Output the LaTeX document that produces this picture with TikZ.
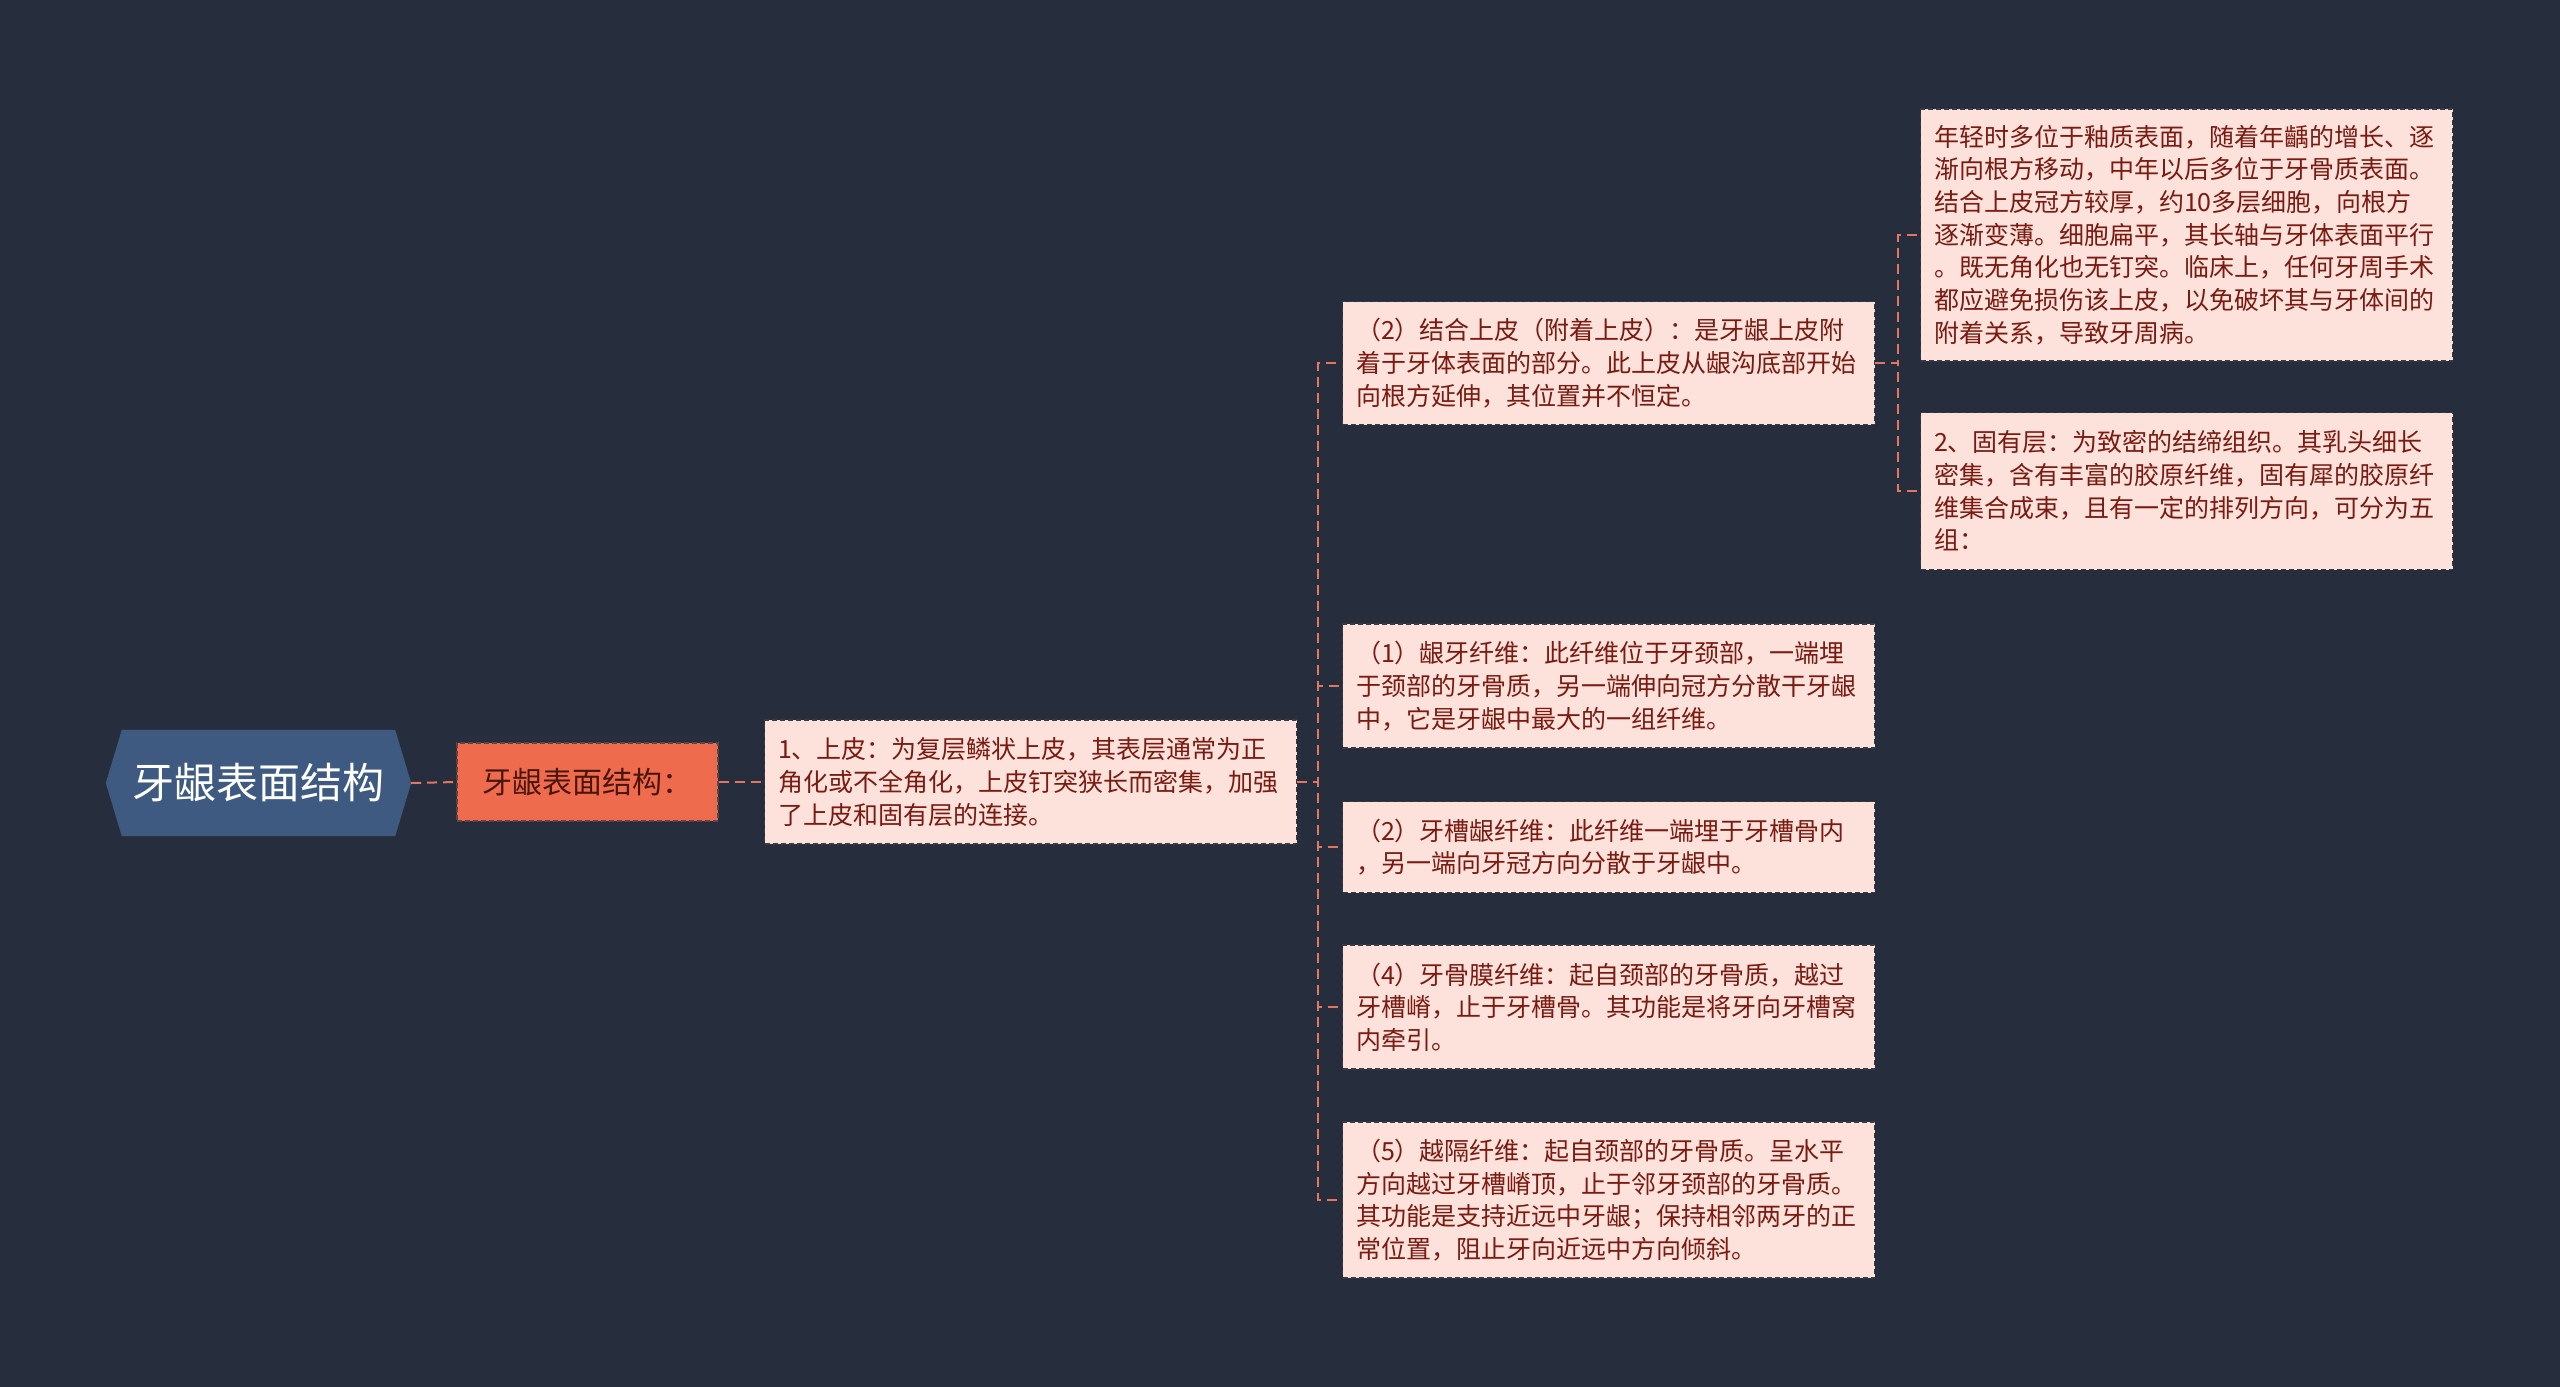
\documentclass[tikz,border=0pt]{standalone}
\usepackage{fontspec}
\setmainfont{Noto Sans CJK SC}
\usetikzlibrary{backgrounds}
\definecolor{bgc}{HTML}{262E3D}
\definecolor{rootc}{HTML}{3E5A80}
\definecolor{childc}{HTML}{EE6B4D}
\definecolor{childtext}{HTML}{4A150C}
\definecolor{leafc}{HTML}{FDE2DC}
\definecolor{leaftext}{HTML}{7A1A10}
\definecolor{linec}{HTML}{E3765E}
\definecolor{borderc}{HTML}{3A3A44}
\tikzset{
  rootnode/.style={minimum width=305pt,minimum height=106pt,inner sep=0pt,text=white,font=\fontsize{42}{50}\selectfont},
  childnode/.style={fill=childc,draw=borderc!80!childc,dash pattern=on 5pt off 3pt,line width=1.2pt,minimum width=261pt,minimum height=78pt,inner sep=0pt,text=childtext,font=\fontsize{30}{36}\selectfont},
  leafnode/.style={fill=leafc,draw=borderc,dash pattern=on 5pt off 3pt,line width=1.2pt,text width=505pt,inner xsep=13.5pt,inner ysep=0pt,align=left,anchor=west,text=leaftext,font=\fontsize{25}{32.65}\selectfont},
  conn/.style={draw=linec,line width=2pt,dash pattern=on 10pt off 6pt},
}
\begin{document}
\begin{tikzpicture}[x=1pt,y=-1pt]
\useasboundingbox (0,0) rectangle (2560,1387);
\node[rootnode] (root) at (258.5,783) {牙龈表面结构};
\node[childnode] (child) at (587.5,782) {牙龈表面结构：};
\node[leafnode,minimum height=124pt] (A) at (764,782) {1、上皮：为复层鳞状上皮，其表层通常为正\\角化或不全角化，上皮钉突狭长而密集，加强\\了上皮和固有层的连接。};
\node[leafnode,minimum height=123pt] (B) at (1342,363) {（2）结合上皮（附着上皮）：是牙龈上皮附\\着于牙体表面的部分。此上皮从龈沟底部开始\\向根方延伸，其位置并不恒定。};
\node[leafnode,minimum height=252pt] (C) at (1920,235) {年轻时多位于釉质表面，随着年齲的增长、逐\\渐向根方移动，中年以后多位于牙骨质表面。\\结合上皮冠方较厚，约10多层细胞，向根方\\逐渐变薄。细胞扁平，其长轴与牙体表面平行\\。既无角化也无钉突。临床上，任何牙周手术\\都应避免损伤该上皮，以免破坏其与牙体间的\\附着关系，导致牙周病。};
\node[leafnode,minimum height=157pt] (D) at (1920,491) {2、固有层：为致密的结缔组织。其乳头细长\\密集，含有丰富的胶原纤维，固有犀的胶原纤\\维集合成束，且有一定的排列方向，可分为五\\组：};
\node[leafnode,minimum height=124pt] (E) at (1342,686) {（1）龈牙纤维：此纤维位于牙颈部，一端埋\\于颈部的牙骨质，另一端伸向冠方分散干牙龈\\中，它是牙龈中最大的一组纤维。};
\node[leafnode,minimum height=91pt] (F) at (1342,847) {（2）牙槽龈纤维：此纤维一端埋于牙槽骨内\\，另一端向牙冠方向分散于牙龈中。};
\node[leafnode,minimum height=124pt] (G) at (1342,1007) {（4）牙骨膜纤维：起自颈部的牙骨质，越过\\牙槽嵴，止于牙槽骨。其功能是将牙向牙槽窝\\内牵引。};
\node[leafnode,minimum height=156pt] (H) at (1342,1200) {（5）越隔纤维：起自颈部的牙骨质。呈水平\\方向越过牙槽嵴顶，止于邻牙颈部的牙骨质。\\其功能是支持近远中牙龈；保持相邻两牙的正\\常位置，阻止牙向近远中方向倾斜。};
\begin{scope}[on background layer]
\fill[bgc] (0,0) rectangle (2560,1387);
\fill[rootc] ([xshift=16pt]root.north west) -- ([xshift=-16pt]root.north east) -- (root.east) -- ([xshift=-16pt]root.south east) -- ([xshift=16pt]root.south west) -- (root.west) -- cycle;
\end{scope}
\draw[conn] (root.east) -- (child.west);
\draw[conn] (child.east) -- (A.west);
\foreach \n in {B,E,F,G,H} \draw[conn] (A.east) -- ++(21,0) |- (\n.west);
\foreach \n in {C,D} \draw[conn] (B.east) -- ++(23,0) |- (\n.west);
\end{tikzpicture}
\end{document}
